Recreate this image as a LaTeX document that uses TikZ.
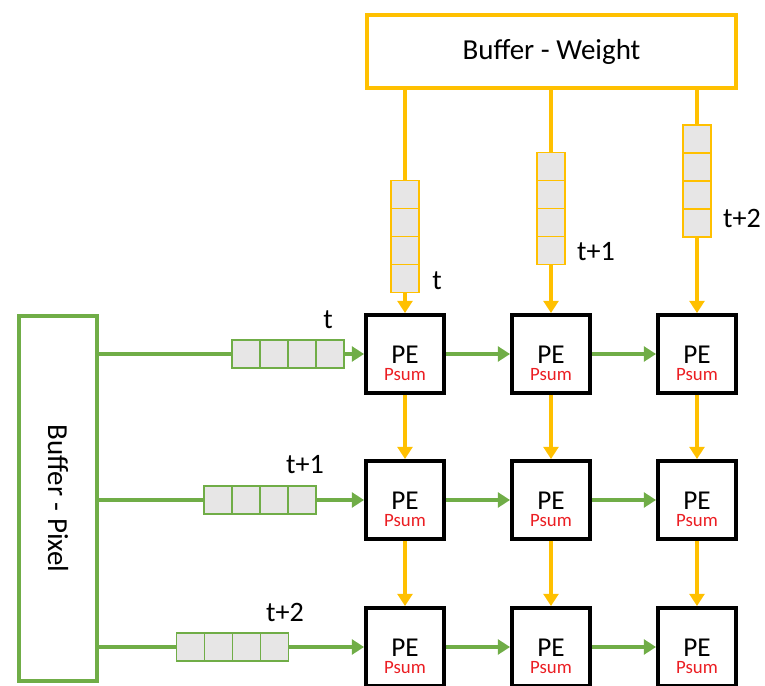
\documentclass[tikz,border=0pt]{standalone}
\usepackage{fontspec}
\setmainfont{Carlito}
\usepackage{graphicx}
\usetikzlibrary{arrows.meta, positioning}
\definecolor{wyellow}{RGB}{255,192,0}
\definecolor{pgreen}{RGB}{112,173,71}
\definecolor{cellgray}{RGB}{231,230,230}
\definecolor{psumred}{RGB}{235,30,35}
% two-line PE text, lowered a little inside its box
\newcommand{\pelabel}{\raisebox{-6.7pt}[\height][\depth]{\begin{tabular}{@{}c@{}}
  PE\\[-8pt]{\color{psumred}\fontsize{10.7}{12}\selectfont Psum}\end{tabular}}}

\begin{document}
\begin{tikzpicture}[x=0.02cm, y=-0.02cm,
    buf/.style={draw, line width=2.3pt, font=\fontsize{16.5}{19}\selectfont},
    pe/.style={draw=black, line width=2.5pt, minimum size=1.55cm,
               inner sep=0pt, font=\fontsize{15.5}{18}\selectfont},
    cell/.style={draw, line width=0.7pt, fill=cellgray, minimum size=0.56cm, inner sep=0pt},
    tlbl/.style={inner sep=0pt, font=\fontsize{16}{19}\selectfont},
    wline/.style={line width=2.2pt, wyellow},
    pline/.style={line width=2.5pt, pgreen},
    warr/.style={wline, -{Triangle[length=7pt, width=8.5pt]}},
    parr/.style={pline, -{Triangle[length=7pt, width=8.5pt]}}
  ]
  \useasboundingbox (0,0) rectangle (765,686);

  % the two buffers
  \node[buf, draw=wyellow, minimum width=7.38cm, minimum height=1.46cm]
    (wbuf) at (551.5,51.5) {Buffer - Weight};
  \node[buf, draw=pgreen, minimum width=1.56cm, minimum height=7.30cm]
    (pbuf) at (58,498.5) {\rotatebox{-90}{Buffer - Pixel}};

  % 3x3 array of PEs
  \foreach \r/\y in {1/354, 2/500, 3/647}
    \foreach \c/\x in {1/405, 2/551, 3/697}
      \node[pe] (pe\r\c) at (\x,\y) {\pelabel};

  % weight FIFOs, one per column
  \foreach \c/\x/\y in {1/405/236.5, 2/551/208.5, 3/697/181}
    \foreach \k in {1,...,4}
      \node[cell, draw=wyellow] (wf\c-\k) at (\x, {\y-42+28*(\k-1)}) {};

  % pixel FIFOs, one per row
  \foreach \r/\x/\y in {1/288/354, 2/260/500, 3/232.5/647}
    \foreach \k in {1,...,4}
      \node[cell, draw=pgreen] (pf\r-\k) at ({\x-42+28*(\k-1)}, \y) {};

  % weights go down
  \foreach \c in {1,2,3} {
    \draw[wline] (wbuf.south -| wf\c-1.north) -- (wf\c-1.north);
    \draw[warr] (wf\c-4.south) -- (pe1\c.north);
  }
  \foreach \c in {1,2,3}
    \foreach \r/\n in {1/2, 2/3}
      \draw[warr] (pe\r\c.south) -- (pe\n\c.north);

  % pixels go right
  \foreach \r in {1,2,3} {
    \draw[pline] (pbuf.east |- pf\r-1.west) -- (pf\r-1.west);
    \draw[parr] (pf\r-4.east) -- (pe\r1.west);
  }
  \foreach \r in {1,2,3}
    \foreach \c/\n in {1/2, 2/3}
      \draw[parr] (pe\r\c.east) -- (pe\r\n.west);

  % time stamps
  \node[tlbl] (tw1) at (437,281) {t};
  \node[tlbl] (tw2) at (596,252) {t+1};
  \node[tlbl] (tw3) at (742,218) {t+2};
  \node[tlbl] (tp1) at (328,320) {t};
  \node[tlbl] (tp2) at (305,465) {t+1};
  \node[tlbl] (tp3) at (285,612) {t+2};
\end{tikzpicture}
\end{document}
